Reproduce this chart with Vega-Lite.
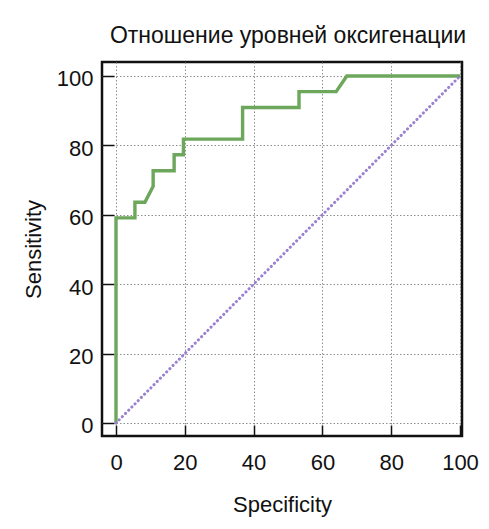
{
  "$schema": "https://vega.github.io/schema/vega-lite/v6.json",
  "width": 360,
  "height": 374,
  "autosize": "none",
  "padding": {"left": 102, "top": 62, "right": 27, "bottom": 93},
  "background": "white",
  "title": {
    "text": "Отношение уровней оксигенации",
    "font": "Liberation Sans",
    "fontSize": 23,
    "fontWeight": "normal",
    "color": "#111",
    "anchor": "middle",
    "baseline": "alphabetic",
    "offset": 19,
    "dx": 6,
    "dy": 23
  },
  "config": {
    "view": {"stroke": "#111", "strokeWidth": 2.5},
    "axis": {
      "labelFont": "Liberation Sans",
      "titleFont": "Liberation Sans",
      "labelFontSize": 22,
      "titleFontSize": 22,
      "titleFontWeight": "normal",
      "labelColor": "#111",
      "titleColor": "#111",
      "tickColor": "#111",
      "tickWidth": 1.5,
      "domain": false,
      "gridColor": "#8a8f94",
      "gridDash": [1.5, 2],
      "gridWidth": 1,
      "labelFlush": false,
      "labelOverlap": false,
      "labelBound": false
    }
  },
  "layer": [
    {
      "data": {
        "values": [
          {"i": 0, "spec": 0, "sens": 0},
          {"i": 1, "spec": 0, "sens": 59.1},
          {"i": 2, "spec": 5.5, "sens": 59.1},
          {"i": 3, "spec": 5.5, "sens": 63.6},
          {"i": 4, "spec": 8.4, "sens": 63.6},
          {"i": 5, "spec": 10.8, "sens": 68.2},
          {"i": 6, "spec": 10.8, "sens": 72.7},
          {"i": 7, "spec": 16.9, "sens": 72.7},
          {"i": 8, "spec": 16.9, "sens": 77.3},
          {"i": 9, "spec": 19.6, "sens": 77.3},
          {"i": 10, "spec": 19.6, "sens": 81.8},
          {"i": 11, "spec": 36.8, "sens": 81.8},
          {"i": 12, "spec": 36.8, "sens": 90.9},
          {"i": 13, "spec": 53.2, "sens": 90.9},
          {"i": 14, "spec": 53.2, "sens": 95.5},
          {"i": 15, "spec": 64.0, "sens": 95.5},
          {"i": 16, "spec": 67.1, "sens": 100},
          {"i": 17, "spec": 100, "sens": 100}
        ]
      },
      "mark": {"type": "line", "color": "#6ca75c", "strokeWidth": 3.4, "strokeJoin": "miter", "clip": true},
      "encoding": {
        "x": {
          "field": "spec",
          "type": "quantitative",
          "title": "Specificity",
          "scale": {"domain": [-4.07, 100.58], "nice": false, "zero": false},
          "axis": {
            "values": [0, 2.5, 5, 7.5, 10, 12.5, 15, 17.5, 20, 22.5, 25, 27.5, 30, 32.5, 35, 37.5, 40, 42.5, 45, 47.5, 50, 52.5, 55, 57.5, 60, 62.5, 65, 67.5, 70, 72.5, 75, 77.5, 80, 82.5, 85, 87.5, 90, 92.5, 95, 97.5, 100],
            "labelExpr": "datum.value % 20 === 0 ? datum.label : ''",
            "offset": -11,
            "tickSize": 11,
            "tickDash": {"condition": {"test": "datum.value % 10 === 0", "value": [30, 1]}, "value": [5, 6]},
            "tickDashOffset": {"condition": {"test": "datum.value % 10 === 0", "value": 0}, "value": 5},
            "gridOpacity": {"condition": {"test": "datum.value % 10 === 0", "value": 1}, "value": 0},
            "labelPadding": 16,
            "titlePadding": 21
          }
        },
        "y": {
          "field": "sens",
          "type": "quantitative",
          "title": "Sensitivity",
          "scale": {"domain": [-3.75, 104.03], "nice": false, "zero": false},
          "axis": {
            "values": [0, 2.5, 5, 7.5, 10, 12.5, 15, 17.5, 20, 22.5, 25, 27.5, 30, 32.5, 35, 37.5, 40, 42.5, 45, 47.5, 50, 52.5, 55, 57.5, 60, 62.5, 65, 67.5, 70, 72.5, 75, 77.5, 80, 82.5, 85, 87.5, 90, 92.5, 95, 97.5, 100],
            "labelExpr": "datum.value % 20 === 0 ? datum.label : ''",
            "offset": -12,
            "tickSize": 12,
            "tickDash": {"condition": {"test": "datum.value % 10 === 0", "value": [30, 1]}, "value": [7, 5]},
            "tickDashOffset": {"condition": {"test": "datum.value % 10 === 0", "value": 0}, "value": 7},
            "gridOpacity": {"condition": {"test": "datum.value % 10 === 0", "value": 1}, "value": 0},
            "labelPadding": 9,
            "labelOffset": 3,
            "titlePadding": 11
          }
        },
        "order": {"field": "i", "type": "quantitative"}
      }
    },
    {
      "data": {"values": [{"spec": 0, "sens": 0}, {"spec": 100, "sens": 100}]},
      "mark": {"type": "line", "color": "#9b80d2", "strokeWidth": 3, "strokeCap": "round", "strokeDash": [0.1, 4.4]},
      "encoding": {
        "x": {"field": "spec", "type": "quantitative"},
        "y": {"field": "sens", "type": "quantitative"}
      }
    }
  ]
}
